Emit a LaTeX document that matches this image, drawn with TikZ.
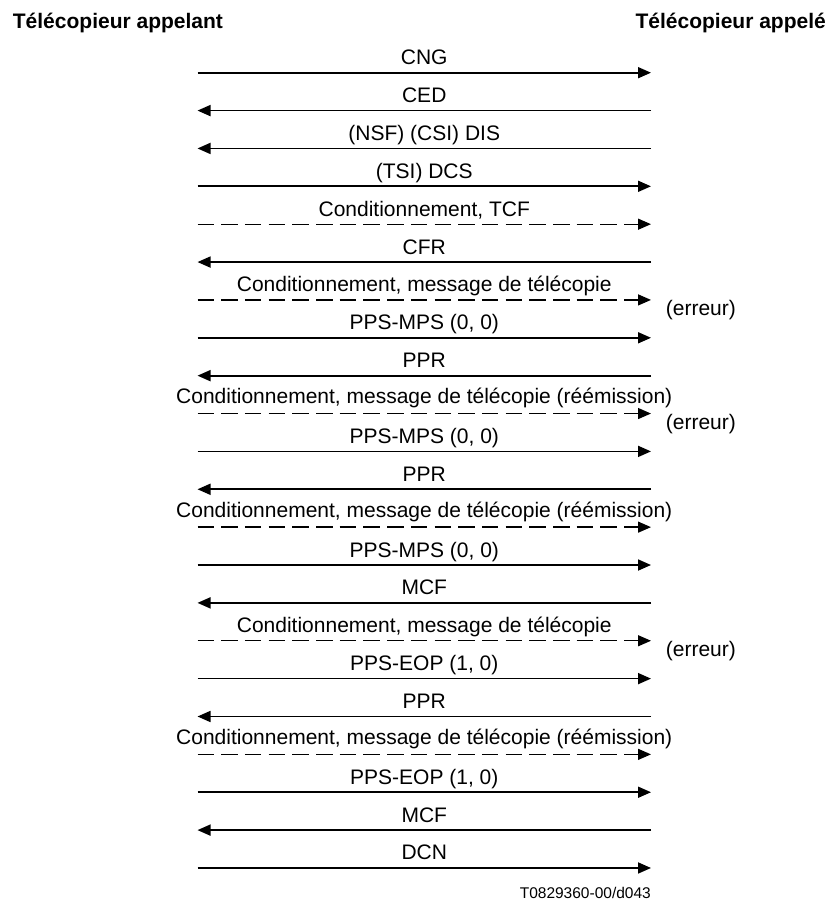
\documentclass[tikz,border=0pt]{standalone}
\usepackage{fontspec}
\setmainfont{Liberation Sans}
\usetikzlibrary{arrows.meta}
\begin{document}
\begin{tikzpicture}[x=1pt,y=-1pt,
  every node/.style={inner sep=0pt, font=\fontsize{21}{25}\selectfont},
  sig/.style={line width=1.7pt, -{Triangle[length=13pt,width=11pt]}},
  dsig/.style={line width=1.3pt, dash pattern=on 16.5pt off 7.2pt, -{Triangle[length=13pt,width=11pt]}},
  lbl/.style={midway, anchor=base, yshift=8pt},
  err/.style={anchor=base west},
  hdr/.style={font=\fontsize{21}{25}\selectfont\bfseries}]
\useasboundingbox (0,0) rectangle (834,902);
\foreach \i in {1,...,22} {
  \coordinate (L\i) at (197.5, {72.7+(\i-1)*37.87});
  \coordinate (R\i) at (651, {72.7+(\i-1)*37.87});
}
\node[hdr, anchor=base west] (h1) at (12.7,28.3) {Télécopieur appelant};
\node[hdr, anchor=base east] (h2) at (826,28.3) {Télécopieur appelé};

\draw[sig] (L1) -- (R1) node[lbl] {CNG};
\draw[sig] (R2) -- (L2) node[lbl] {CED};
\draw[sig] (R3) -- (L3) node[lbl] {(NSF) (CSI) DIS};
\draw[sig] (L4) -- (R4) node[lbl] {(TSI) DCS};
\draw[dsig] (L5) -- (R5) node[lbl] {Conditionnement, TCF};
\draw[sig] (R6) -- (L6) node[lbl] {CFR};
\draw[dsig] (L7) -- (R7) node[lbl] {Conditionnement, message de télécopie};
\draw[sig] (L8) -- (R8) node[lbl] {PPS-MPS (0, 0)};
\draw[sig] (R9) -- (L9) node[lbl] {PPR};
\draw[dsig] (L10) -- (R10) node[lbl, yshift=2pt] {Conditionnement, message de télécopie (réémission)};
\draw[sig] (L11) -- (R11) node[lbl] {PPS-MPS (0, 0)};
\draw[sig] (R12) -- (L12) node[lbl] {PPR};
\draw[dsig] (L13) -- (R13) node[lbl, yshift=2pt] {Conditionnement, message de télécopie (réémission)};
\draw[sig] (L14) -- (R14) node[lbl] {PPS-MPS (0, 0)};
\draw[sig] (R15) -- (L15) node[lbl] {MCF};
\draw[dsig] (L16) -- (R16) node[lbl] {Conditionnement, message de télécopie};
\draw[sig] (L17) -- (R17) node[lbl] {PPS-EOP (1, 0)};
\draw[sig] (R18) -- (L18) node[lbl] {PPR};
\draw[dsig] (L19) -- (R19) node[lbl, yshift=2pt] {Conditionnement, message de télécopie (réémission)};
\draw[sig] (L20) -- (R20) node[lbl] {PPS-EOP (1, 0)};
\draw[sig] (R21) -- (L21) node[lbl] {MCF};
\draw[sig] (L22) -- (R22) node[lbl] {DCN};

\node[err] (e1) at ([shift={(14.7,15.5)}]R7) {(erreur)};
\node[err] (e2) at ([shift={(14.7,15.5)}]R10) {(erreur)};
\node[err] (e3) at ([shift={(14.7,15.5)}]R16) {(erreur)};

\node[anchor=base east, font=\fontsize{15.5}{18}\selectfont] (ft) at (651,898.5) {T0829360-00/d043};
\end{tikzpicture}
\end{document}
